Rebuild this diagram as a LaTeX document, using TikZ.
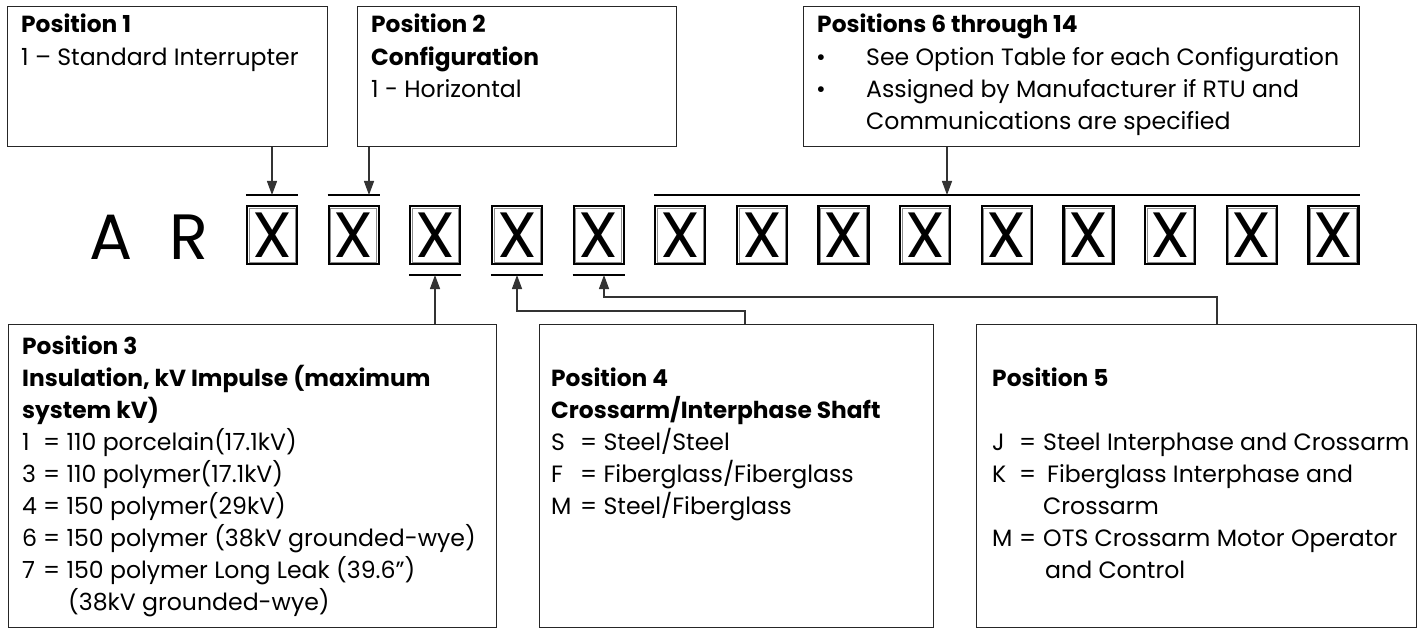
\documentclass[tikz,border=0pt]{standalone}
\usepackage{fontspec}
\setmainfont{Poppins}
\usetikzlibrary{arrows.meta}
\begin{document}
\begin{tikzpicture}[x=1pt,y=-1pt,
  panel/.style={draw=black!85, line width=1.3pt, inner sep=0pt, anchor=north west},
  txt/.style={anchor=base west, inner sep=0pt, font=\fontsize{23.6}{32}\selectfont},
  hd/.style={anchor=base west, inner sep=0pt, font=\fontsize{23.3}{32}\selectfont\bfseries},
  conn/.style={draw=black!80, line width=1.3pt},
  arr/.style={conn, -{Triangle[length=14pt,width=10pt]}},
  bar/.style={draw=black, line width=1.3pt},
  big/.style={inner sep=0pt, font=\fontsize{64}{64}\selectfont},
  slot/.style={draw=black, line width=2.2pt, minimum width=50pt, minimum height=58pt, inner sep=0pt, font=\fontsize{64}{64}\selectfont}]
\useasboundingbox (0,0) rectangle (1423,628);

% code letters
\node[big, anchor=base] (ca) at (111,259) {A};
\node[big, anchor=base] (cr) at (189,259) {R};
\foreach \i in {1,...,14} {
  \node[slot] (s\i) at ({272+81.65*(\i-1)},235) {X};
  \draw[black!45, line width=0.6pt] ([shift={(3pt,-3pt)}]s\i.north west) rectangle ([shift={(-3pt,3pt)}]s\i.south east);
}

% top panels
\node[panel, minimum width=320pt, minimum height=140pt] (p1) at (7,6) {};
\node[panel, minimum width=319pt, minimum height=140pt] (p2) at (357,6) {};
\node[panel, minimum width=556pt, minimum height=140pt] (p6) at (803,6) {};

\node[hd]  (p1a) at (21,33) {Position 1};
\node[txt] (p1b) at (21,66) {1 – Standard Interrupter};

\node[hd]  (p2a) at (371,33) {Position 2};
\node[hd]  (p2b) at (371,66) {Configuration};
\node[txt] (p2c) at (371,98) {1 - Horizontal};

\node[hd]  (p6a) at (817,33) {Positions 6 through 14};
\node[txt, anchor=base] (p6u1) at (821,66) {•};
\node[txt] (p6b) at (866,66) {See Option Table for each Configuration};
\node[txt, anchor=base] (p6u2) at (821,98) {•};
\node[txt] (p6c) at (866,98) {Assigned by Manufacturer if RTU and};
\node[txt] (p6d) at (866,130) {Communications are specified};

% bottom panels
\node[panel, minimum width=488pt, minimum height=303pt] (p3) at (8,324) {};
\node[panel, minimum width=394pt, minimum height=303pt] (p4) at (539,324) {};
\node[panel, minimum width=440pt, minimum height=303pt] (p5) at (976,324) {};

\node[hd]  (p3a) at (22,354) {Position 3};
\node[hd]  (p3b) at (22,386) {Insulation, kV Impulse (maximum};
\node[hd]  (p3c) at (22,418) {system kV)};
\node[txt] (p3d1) at (22,450) {1};
\node[txt] (p3d2) at (43,450) {= 110 porcelain(17.1kV)};
\node[txt] (p3e1) at (22,482) {3};
\node[txt] (p3e2) at (43,482) {= 110 polymer(17.1kV)};
\node[txt] (p3f1) at (22,514) {4};
\node[txt] (p3f2) at (43,514) {= 150 polymer(29kV)};
\node[txt] (p3g1) at (22,546) {6};
\node[txt] (p3g2) at (43,546) {= 150 polymer (38kV grounded-wye)};
\node[txt] (p3h1) at (22,578) {7};
\node[txt] (p3h2) at (43,578) {= 150 polymer Long Leak (39.6”)};
\node[txt] (p3i) at (68,610) {(38kV grounded-wye)};

\node[hd]  (p4a) at (551,386) {Position 4};
\node[hd]  (p4b) at (551,418) {Crossarm/Interphase Shaft};
\node[txt] (p4c) at (551,450) {S};
\node[txt] (p4d) at (580,450) {= Steel/Steel};
\node[txt] (p4e) at (551,482) {F};
\node[txt] (p4f) at (580,482) {= Fiberglass/Fiberglass};
\node[txt] (p4g) at (551,514) {M};
\node[txt] (p4h) at (580,514) {= Steel/Fiberglass};

\node[hd]  (p5a) at (992,386) {Position 5};
\node[txt] (p5b1) at (992,450) {J};
\node[txt] (p5b2) at (1019,450) {=};
\node[txt] (p5c) at (1043,450) {Steel Interphase and Crossarm};
\node[txt] (p5d1) at (992,482) {K};
\node[txt] (p5d2) at (1019,482) {=};
\node[txt] (p5e) at (1047,482) {Fiberglass Interphase and};
\node[txt] (p5f) at (1043,514) {Crossarm};
\node[txt] (p5g1) at (992,546) {M};
\node[txt] (p5g2) at (1019,546) {=};
\node[txt] (p5h) at (1043,546) {OTS Crossarm Motor Operator};
\node[txt] (p5i) at (1045,578) {and Control};

% bars over / under slots
\draw[bar] ([yshift=10pt]s1.north west) -- ([yshift=10pt]s1.north east);
\draw[bar] ([yshift=10pt]s2.north west) -- ([yshift=10pt]s2.north east);
\draw[bar] ([yshift=10pt]s6.north west) -- ([yshift=10pt]s14.north east);
\draw[bar] ([yshift=-10pt]s3.south west) -- ([yshift=-10pt]s3.south east);
\draw[bar] ([yshift=-10pt]s4.south west) -- ([yshift=-10pt]s4.south east);
\draw[bar] ([yshift=-10pt]s5.south west) -- ([yshift=-10pt]s5.south east);

% arrow targets
\coordinate (t1) at (272,195);
\coordinate (t2) at (369,195);
\coordinate (t6) at (947,195);
\coordinate (t3) at (435,275);
\coordinate (t4) at (517,275);
\coordinate (t5) at (604,275);
\coordinate (k4) at (745,311);
\coordinate (k5) at (1217,297);

\draw[arr] (t1 |- p1.south) -- (t1);
\draw[arr] (t2 |- p2.south) -- (t2);
\draw[arr] (t6 |- p6.south) -- (t6);
\draw[arr] (t3 |- p3.north) -- (t3);
\draw[arr] (k4 |- p4.north) -- (k4) -| (t4);
\draw[arr] (k5 |- p5.north) -- (k5) -| (t5);
\end{tikzpicture}
\end{document}
